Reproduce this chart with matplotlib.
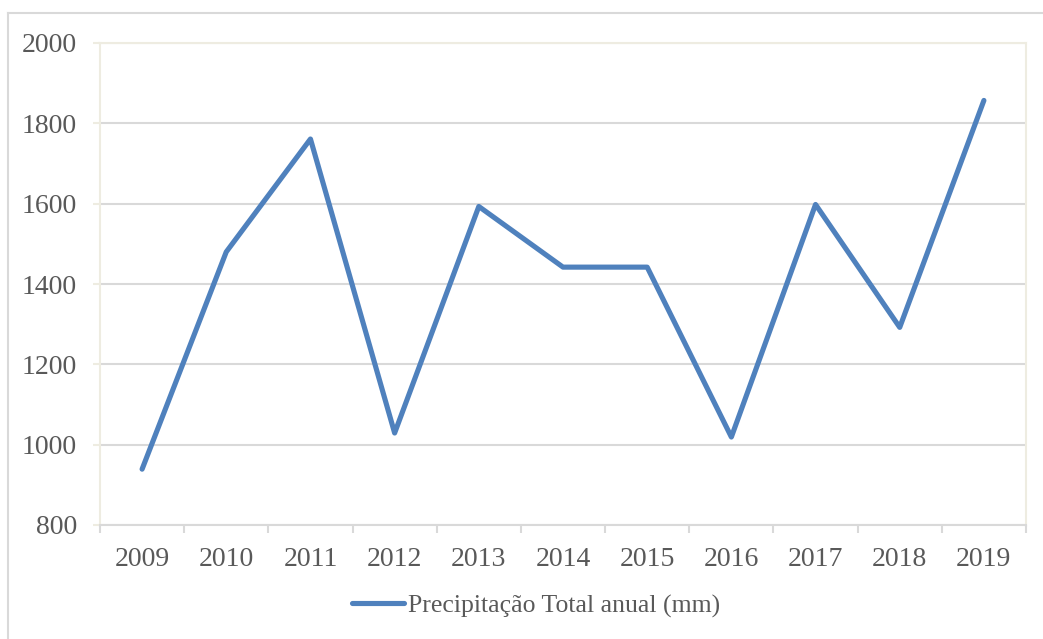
import matplotlib
matplotlib.use("Agg")
import matplotlib.pyplot as plt
from matplotlib.lines import Line2D
import numpy as np

years = ["2009", "2010", "2011", "2012", "2013", "2014", "2015", "2016", "2017", "2018", "2019"]
precip = [939, 1480, 1761, 1029, 1593, 1442, 1442, 1019, 1598, 1292, 1857]
series_name = "Precipitação Total anual (mm)"
y_ticks = [800, 1000, 1200, 1400, 1600, 1800, 2000]

plt.rcParams['font.family'] = ['Liberation Serif', 'DejaVu Serif']
W, H = 1043, 639
fig = plt.figure(figsize=(W / 100, H / 100), dpi=100)
ax = fig.add_axes([100 / W, 1 - 525 / H, (1026 - 100) / W, (525 - 43) / H])

x = np.arange(len(years))
line, = ax.plot(x, precip, color='#4F81BD', linewidth=3.7, solid_capstyle='round',
                solid_joinstyle='round', label=series_name, zorder=3)

ax.set_xlim(-0.5, len(years) - 0.5)
ax.set_ylim(800, 2000)
ax.set_yticks(y_ticks)
ax.set_xticks(x)
ax.set_xticklabels(years)
ax.set_xticks(np.arange(-0.5, len(years), 1), minor=True)

txt = '#595959'
ax.tick_params(axis='x', which='major', length=0, pad=15.5, labelsize=20, labelcolor=txt)
ax.tick_params(axis='x', which='minor', length=5.8, width=1.5, color='#D9D9D9')
ax.tick_params(axis='y', which='major', length=5, width=1.5, color='#EEECE1', pad=11.5,
               labelsize=20, labelcolor=txt)

ax.grid(axis='y', color='#D9D9D9', linewidth=1.5, zorder=0)
ax.set_axisbelow(True)
ax.spines['bottom'].set_color('#D9D9D9')
ax.spines['bottom'].set_linewidth(1.5)
for s in ['left', 'top', 'right']:
    ax.spines[s].set_color('#EEECE1')
    ax.spines[s].set_linewidth(1.5)

leg = fig.legend(handles=[line], loc='center', bbox_to_anchor=(536 / W, 1 - 606 / H),
                 frameon=False, fontsize=18.5, handlelength=2.0, handletextpad=0.15)
for t in leg.get_texts():
    t.set_color(txt)

# outer chart frame
fig.add_artist(Line2D([8 / W, 8 / W], [0, 1 - 13 / H], transform=fig.transFigure,
                      color='#D9D9D9', linewidth=1.5))
fig.add_artist(Line2D([8 / W, 1], [1 - 13 / H, 1 - 13 / H], transform=fig.transFigure,
                      color='#D9D9D9', linewidth=1.5))

fig.savefig("out.png", dpi=100)
